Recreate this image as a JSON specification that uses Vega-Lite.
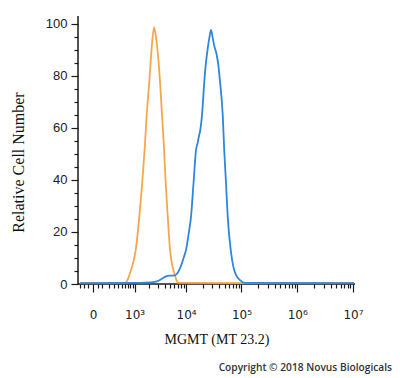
{
  "$schema": "https://vega.github.io/schema/vega-lite/v6.json",
  "width": 277,
  "height": 268,
  "autosize": {"type": "none"},
  "padding": {"left": 78, "top": 16, "right": 45, "bottom": 94},
  "background": "white",
  "title": {
    "text": "Copyright © 2018 Novus Biologicals",
    "orient": "bottom",
    "anchor": "end",
    "frame": "group",
    "dx": 37,
    "offset": 17,
    "font": "Open Sans",
    "fontSize": 10.2,
    "fontWeight": 600,
    "color": "#333333"
  },
  "config": {
    "view": {"stroke": null}
  },
  "encoding": {
    "x": {
      "field": "intensity",
      "type": "quantitative",
      "scale": {"type": "symlog", "constant": 219, "domain": [-188, 10850000], "nice": false, "zero": false},
      "axis": {
        "grid": false,
        "domain": false,
        "tickColor": "#1a1a1a",
        "tickWidth": 1.2,
        "title": "MGMT (MT 23.2)",
        "titleFont": "Liberation Serif",
        "titleFontSize": 14,
        "titleFontWeight": "normal",
        "titleColor": "#111111",
        "titlePadding": 12,
        "values": [-150, -100, -50, 0, 50, 100, 200, 300, 400, 500, 600, 700, 800, 900, 1000, 2000, 3000, 4000, 5000, 6000, 7000, 8000, 9000, 10000, 20000, 30000, 40000, 50000, 60000, 70000, 80000, 90000, 100000, 200000, 300000, 400000, 500000, 600000, 700000, 800000, 900000, 1000000, 2000000, 3000000, 4000000, 5000000, 6000000, 7000000, 8000000, 9000000, 10000000],
        "labelExpr": "datum.value == 0 ? '0' : datum.value == 1000 ? '10³' : datum.value == 10000 ? '10⁴' : datum.value == 100000 ? '10⁵' : datum.value == 1000000 ? '10⁶' : datum.value == 10000000 ? '10⁷' : ''",
        "labelOverlap": false,
        "labelFlush": false,
        "labelBound": false,
        "labelFont": "DejaVu Sans",
        "labelFontSize": 12,
        "labelColor": "#222222",
        "labelPadding": 17,
        "tickSize": {"condition": {"test": "indexof([0,1000,10000,100000,1000000,10000000], datum.value) >= 0", "value": 8}, "value": 4}
      }
    },
    "y": {
      "field": "count",
      "type": "quantitative",
      "scale": {"domain": [0, 103], "nice": false},
      "axis": {
        "grid": false,
        "domain": false,
        "tickColor": "#1a1a1a",
        "tickWidth": 1.2,
        "title": "Relative Cell Number",
        "titleFont": "Liberation Serif",
        "titleFontSize": 16,
        "titleFontWeight": "normal",
        "titleColor": "#111111",
        "titlePadding": 19,
        "titleY": 146,
        "values": [0, 5, 10, 15, 20, 25, 30, 35, 40, 45, 50, 55, 60, 65, 70, 75, 80, 85, 90, 95, 100],
        "labelExpr": "datum.value % 20 == 0 ? datum.label : ''",
        "labelOverlap": false,
        "labelFont": "Liberation Sans",
        "labelFontSize": 13,
        "labelColor": "#222222",
        "labelPadding": 4,
        "tickSize": {"condition": {"test": "datum.value % 20 == 0", "value": 7}, "value": 4}
      }
    }
  },
  "layer": [
    {
      "data": {"values": [{"intensity": -188, "count": 0, "top": 103}]},
      "mark": {"type": "rule", "color": "#1a1a1a", "strokeWidth": 1.5},
      "encoding": {
        "y2": {"field": "top"}
      }
    },
    {
      "data": {"values": [{"intensity": -188, "end": 10850000, "count": 0}]},
      "mark": {"type": "rule", "color": "#1a1a1a", "strokeWidth": 1.5},
      "encoding": {
        "x2": {"field": "end"}
      }
    },
    {
      "data": {
        "values": [
          {"sample": "control", "intensity": -155, "count": 0.3},
          {"sample": "control", "intensity": 601, "count": 0.4},
          {"sample": "control", "intensity": 709, "count": 2},
          {"sample": "control", "intensity": 789, "count": 4.2},
          {"sample": "control", "intensity": 922, "count": 8},
          {"sample": "control", "intensity": 1057, "count": 13.1},
          {"sample": "control", "intensity": 1261, "count": 25.9},
          {"sample": "control", "intensity": 1435, "count": 38},
          {"sample": "control", "intensity": 1630, "count": 52.2},
          {"sample": "control", "intensity": 1789, "count": 65},
          {"sample": "control", "intensity": 2016, "count": 77.8},
          {"sample": "control", "intensity": 2229, "count": 90},
          {"sample": "control", "intensity": 2496, "count": 98.6},
          {"sample": "control", "intensity": 2669, "count": 96},
          {"sample": "control", "intensity": 2892, "count": 90.6},
          {"sample": "control", "intensity": 3257, "count": 77.8},
          {"sample": "control", "intensity": 3558, "count": 65},
          {"sample": "control", "intensity": 3883, "count": 52.2},
          {"sample": "control", "intensity": 4146, "count": 40},
          {"sample": "control", "intensity": 4560, "count": 25.9},
          {"sample": "control", "intensity": 5035, "count": 13.1},
          {"sample": "control", "intensity": 5486, "count": 7.5},
          {"sample": "control", "intensity": 6053, "count": 4.2},
          {"sample": "control", "intensity": 6511, "count": 2},
          {"sample": "control", "intensity": 7181, "count": 0.4},
          {"sample": "control", "intensity": 10410000, "count": 0.3},
          {"sample": "MGMT", "intensity": -155, "count": 0.3},
          {"sample": "MGMT", "intensity": 1304, "count": 0.4},
          {"sample": "MGMT", "intensity": 2082, "count": 0.6},
          {"sample": "MGMT", "intensity": 2853, "count": 1.0},
          {"sample": "MGMT", "intensity": 3558, "count": 2.0},
          {"sample": "MGMT", "intensity": 4233, "count": 2.9},
          {"sample": "MGMT", "intensity": 5035, "count": 3.2},
          {"sample": "MGMT", "intensity": 6237, "count": 3.3},
          {"sample": "MGMT", "intensity": 7091, "count": 4.5},
          {"sample": "MGMT", "intensity": 8050, "count": 7},
          {"sample": "MGMT", "intensity": 9141, "count": 10.5},
          {"sample": "MGMT", "intensity": 9947, "count": 13.1},
          {"sample": "MGMT", "intensity": 11051, "count": 19},
          {"sample": "MGMT", "intensity": 12277, "count": 25.9},
          {"sample": "MGMT", "intensity": 13633, "count": 38.7},
          {"sample": "MGMT", "intensity": 15142, "count": 51.5},
          {"sample": "MGMT", "intensity": 16123, "count": 54},
          {"sample": "MGMT", "intensity": 17163, "count": 57},
          {"sample": "MGMT", "intensity": 17897, "count": 58.6},
          {"sample": "MGMT", "intensity": 19452, "count": 65},
          {"sample": "MGMT", "intensity": 21409, "count": 77.8},
          {"sample": "MGMT", "intensity": 22697, "count": 84.2},
          {"sample": "MGMT", "intensity": 24666, "count": 90.6},
          {"sample": "MGMT", "intensity": 26588, "count": 95},
          {"sample": "MGMT", "intensity": 28295, "count": 97.7},
          {"sample": "MGMT", "intensity": 30134, "count": 95},
          {"sample": "MGMT", "intensity": 32062, "count": 91.9},
          {"sample": "MGMT", "intensity": 35872, "count": 88},
          {"sample": "MGMT", "intensity": 38325, "count": 84.2},
          {"sample": "MGMT", "intensity": 41128, "count": 77.8},
          {"sample": "MGMT", "intensity": 46012, "count": 65},
          {"sample": "MGMT", "intensity": 48968, "count": 51.5},
          {"sample": "MGMT", "intensity": 52757, "count": 38.7},
          {"sample": "MGMT", "intensity": 56590, "count": 25.9},
          {"sample": "MGMT", "intensity": 64101, "count": 13.1},
          {"sample": "MGMT", "intensity": 71350, "count": 6.7},
          {"sample": "MGMT", "intensity": 79781, "count": 3.5},
          {"sample": "MGMT", "intensity": 94148, "count": 1.5},
          {"sample": "MGMT", "intensity": 115783, "count": 0.4},
          {"sample": "MGMT", "intensity": 10410000, "count": 0.3}
        ]
      },
      "mark": {"type": "line", "interpolate": "monotone", "strokeWidth": 1.8},
      "encoding": {
        "color": {
          "field": "sample",
          "type": "nominal",
          "scale": {"domain": ["control", "MGMT"], "range": ["#F6A64E", "#2E86DD"]},
          "legend": null
        }
      }
    }
  ]
}
